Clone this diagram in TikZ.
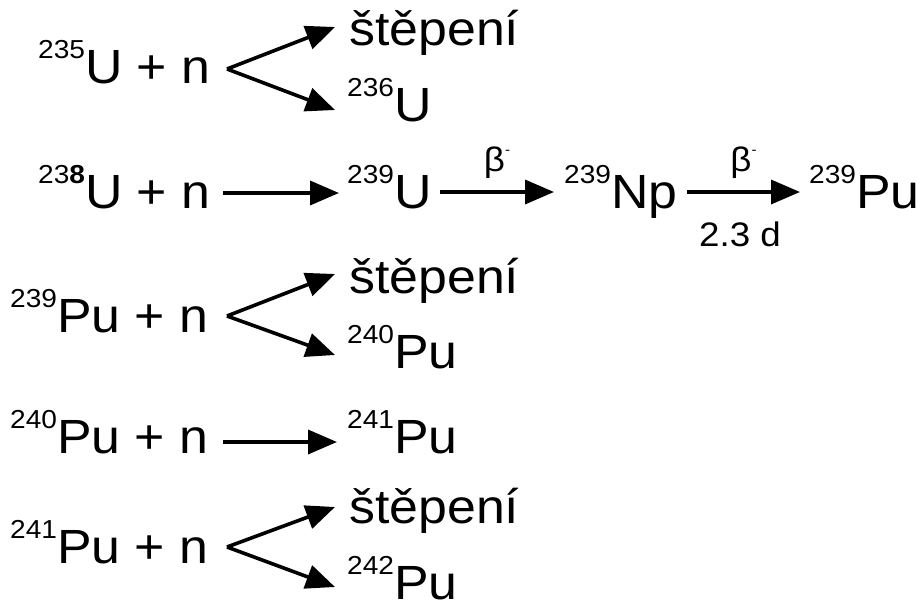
\documentclass[tikz,border=0pt]{standalone}
\usepackage{fontspec}
\setmainfont[FakeStretch=1.08]{Liberation Sans}
\usetikzlibrary{arrows.meta}
\newcommand\iso[2]{\raisebox{25pt}{\fontsize{26}{26}\selectfont #1}#2}
\newcommand\betam{β\raisebox{17pt}{\fontsize{14}{14}\selectfont -}}
\begin{document}
\begin{tikzpicture}[x=1pt,y=-1pt,
  txt/.style={anchor=base west, inner sep=0pt, font=\fontsize{48}{50}\selectfont},
  lbl/.style={anchor=base, inner sep=0pt, font=\fontsize{34}{36}\selectfont},
  arr/.style={line width=3.6pt, -{Triangle[length=29pt,width=24pt]}}]
\useasboundingbox (0,0) rectangle (922,606);
% row 1
\node[txt] (a1) at (38,83) {\iso{235}{U} + n};
\node[txt] (a1s) at (349,45) {štěpení};
\node[txt] (a1p) at (347,121) {\iso{236}{U}};
\coordinate (f1) at (227,69);
\coordinate (f1a) at (335,27);
\coordinate (f1b) at (335,110);
\draw[arr] (f1) -- (f1a);
\draw[arr] (f1) -- (f1b);
% row 2
\node[txt] (a2) at (38,208) {\raisebox{25pt}{\fontsize{26}{26}\selectfont 23\textbf{8}}U + n};
\node[txt] (u239) at (347,208) {\iso{239}{U}};
\node[txt] (np239) at (564,208) {\iso{239}{Np}};
\node[txt] (pu239) at (809,208) {\iso{239}{Pu}};
\coordinate (b2s) at (223,193); \coordinate (b2e) at (339,193);
\coordinate (c2s) at (440,192); \coordinate (c2e) at (554,192);
\coordinate (d2s) at (687,192); \coordinate (d2e) at (800,192);
\draw[arr] (b2s) -- (b2e);
\draw[arr] (c2s) -- (c2e) node[lbl, midway, above=12pt] (beta1) {\betam};
\draw[arr] (d2s) -- (d2e) node[lbl, midway, above=12pt] (beta2) {\betam};
\node[lbl] (hl) at (740,246) {2.3 d};
% row 3
\node[txt] (a3) at (10,332) {\iso{239}{Pu} + n};
\node[txt] (a3s) at (349,293) {štěpení};
\node[txt] (a3p) at (347,368) {\iso{240}{Pu}};
\coordinate (f3) at (227,316);
\coordinate (f3a) at (335,274);
\coordinate (f3b) at (335,355);
\draw[arr] (f3) -- (f3a);
\draw[arr] (f3) -- (f3b);
% row 4
\node[txt] (a4) at (10,453) {\iso{240}{Pu} + n};
\node[txt] (a4p) at (347,453) {\iso{241}{Pu}};
\coordinate (b4s) at (223,442); \coordinate (b4e) at (337,442);
\draw[arr] (b4s) -- (b4e);
% row 5
\node[txt] (a5) at (10,563) {\iso{241}{Pu} + n};
\node[txt] (a5s) at (349,523) {štěpení};
\node[txt] (a5p) at (347,599) {\iso{242}{Pu}};
\coordinate (f5) at (227,547);
\coordinate (f5a) at (335,507);
\coordinate (f5b) at (335,587);
\draw[arr] (f5) -- (f5a);
\draw[arr] (f5) -- (f5b);
\end{tikzpicture}
\end{document}
